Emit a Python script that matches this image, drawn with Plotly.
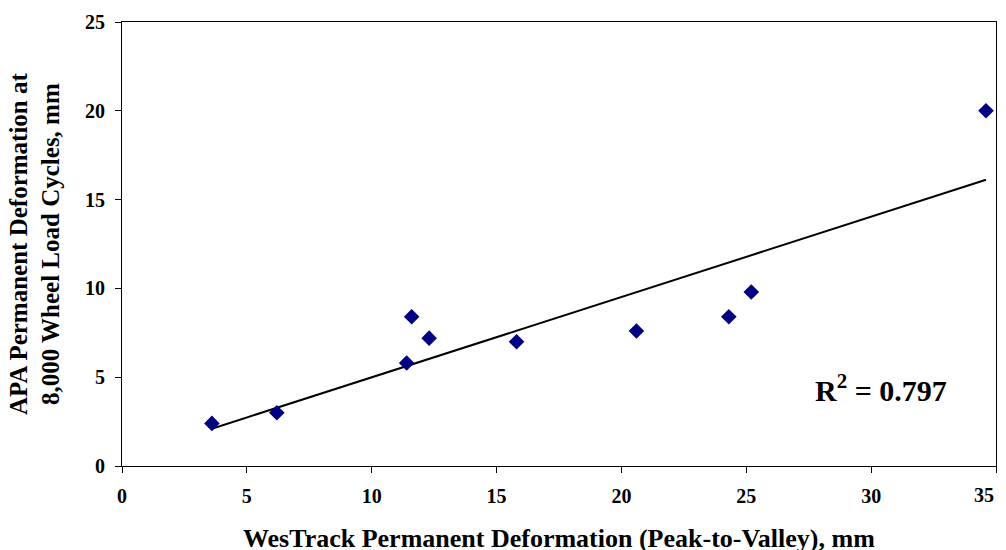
import numpy as np
import plotly.graph_objects as go

westrack_mm = [3.6, 6.2, 11.4, 11.6, 12.3, 15.8, 20.6, 24.3, 25.2, 34.6]
apa_mm = [2.4, 3.0, 5.8, 8.4, 7.2, 7.0, 7.6, 8.4, 9.8, 20.0]
x_ticks = [0, 5, 10, 15, 20, 25, 30, 35]
y_ticks = [0, 5, 10, 15, 20, 25]
x_title = "WesTrack Permanent Deformation (Peak-to-Valley), mm"
y_title_lines = ["APA Permanent Deformation at", "8,000 Wheel Load Cycles, mm"]
r2_label = "R<sup>2</sup> = 0.797"

slope, intercept = np.polyfit(westrack_mm, apa_mm, 1)
fit_x = [min(westrack_mm), max(westrack_mm)]
fit_y = [slope * v + intercept for v in fit_x]

FONT = "Liberation Serif"

fig = go.Figure()
fig.add_trace(go.Scatter(x=fit_x, y=fit_y, mode="lines",
                         line=dict(color="black", width=2), hoverinfo="skip",
                         showlegend=False))
fig.add_trace(go.Scatter(x=westrack_mm, y=apa_mm, mode="markers",
                         marker=dict(symbol="diamond", size=12, color="#000080"),
                         showlegend=False))

fig.add_annotation(x=30.4, y=4.4, xref="x", yref="y", text="<b>" + r2_label + "</b>",
                   showarrow=False, font=dict(family=FONT, size=30, color="black"))

# axis titles
fig.add_annotation(x=0.5, y=-0.163, xref="paper", yref="paper", text="<b>" + x_title + "</b>",
                   showarrow=False, xanchor="center", yanchor="middle",
                   font=dict(family=FONT, size=26, color="black"))
for xp, line in zip([-0.119, -0.0824], y_title_lines):
    fig.add_annotation(x=xp, y=0.5, xref="paper", yref="paper", text="<b>" + line + "</b>",
                       showarrow=False, textangle=-90, xanchor="center", yanchor="middle",
                       font=dict(family=FONT, size=25, color="black"))

axis_common = dict(showgrid=False, zeroline=False, showline=True, linecolor="black",
                   linewidth=1, mirror=True, ticks="outside", ticklen=6,
                   tickcolor="black", automargin=False,
                   tickfont=dict(family=FONT, size=20, color="black"))

# last x label is drawn pulled inward (as in the reference) so it stays on the page
x_ticktext = [f"<b>{t}</b>" for t in x_ticks[:-1]] + [""]
fig.add_annotation(x=1.0, y=-0.0653, xref="paper", yref="paper",
                   text=f"<b>{x_ticks[-1]}</b>", showarrow=False,
                   xanchor="right", yanchor="middle",
                   font=dict(family=FONT, size=20, color="black"))

fig.update_xaxes(range=[0, 35], tickvals=x_ticks, ticktext=x_ticktext,
                 ticklabelstandoff=6, **axis_common)
fig.update_yaxes(range=[0, 25], tickvals=y_ticks, ticktext=[f"<b>{t}</b>" for t in y_ticks],
                 ticklabelstandoff=6, **axis_common)

# the page body adds an 8px offset, so margins are reduced to compensate
fig.update_layout(width=1006, height=550, margin=dict(l=114, r=18, t=14, b=92),
                  plot_bgcolor="white", paper_bgcolor="white")

fig.write_html("out.html")
